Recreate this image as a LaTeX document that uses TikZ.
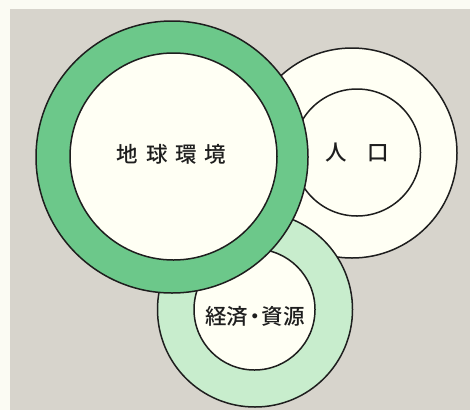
\documentclass[tikz,border=0pt]{standalone}
\usepackage{fontspec}
\newfontfamily\cjk{Noto Sans CJK JP Medium}
\definecolor{cream}{HTML}{FFFFF4}
\definecolor{paper}{HTML}{FBFBF3}
\definecolor{bggray}{HTML}{D7D4CC}
\definecolor{darkgreen}{HTML}{6CC88A}
\definecolor{lightgreen}{HTML}{C8EDCD}
\definecolor{ink}{HTML}{1E1E1E}
\tikzset{
  ring/.style={circle, draw=ink, line width=1.5pt, inner sep=0pt, outer sep=0pt},
  label/.style={font=\cjk\fontsize{21.5pt}{25pt}\selectfont, text=ink, inner sep=0pt}
}
\begin{document}
\begin{tikzpicture}[x=1pt,y=-1pt]
\fill[paper] (0,0) rectangle (470,410);
\fill[bggray] (10,9) rectangle (470,410);
\useasboundingbox (0,0) rectangle (470,410);
% population
\node[ring, fill=cream, minimum size=210pt] (popout) at (352,153) {};
\node[ring, fill=cream, minimum size=127pt] (popin) at (357,152.5) {};
\node[label] (poptext) at (357,153) {人\hspace{20pt}口};
% economy / resources
\node[ring, fill=lightgreen, minimum size=195pt] (ecoout) at (255,309.5) {};
\node[ring, fill=cream, minimum size=121pt] (ecoin) at (254.5,309.5) {};
\node[label] (ecotext) at (255,316) {経済\hspace{-4pt}・\hspace{-4pt}資源};
% earth environment
\node[ring, fill=darkgreen, minimum size=272pt] (earthout) at (172,157) {};
\node[ring, fill=cream, minimum size=207pt] (earthin) at (173.5,156.5) {};
\node[label] (earthtext) at (171.5,154) {地\hspace{8pt}球\hspace{8pt}環\hspace{8pt}境};
\end{tikzpicture}
\end{document}
